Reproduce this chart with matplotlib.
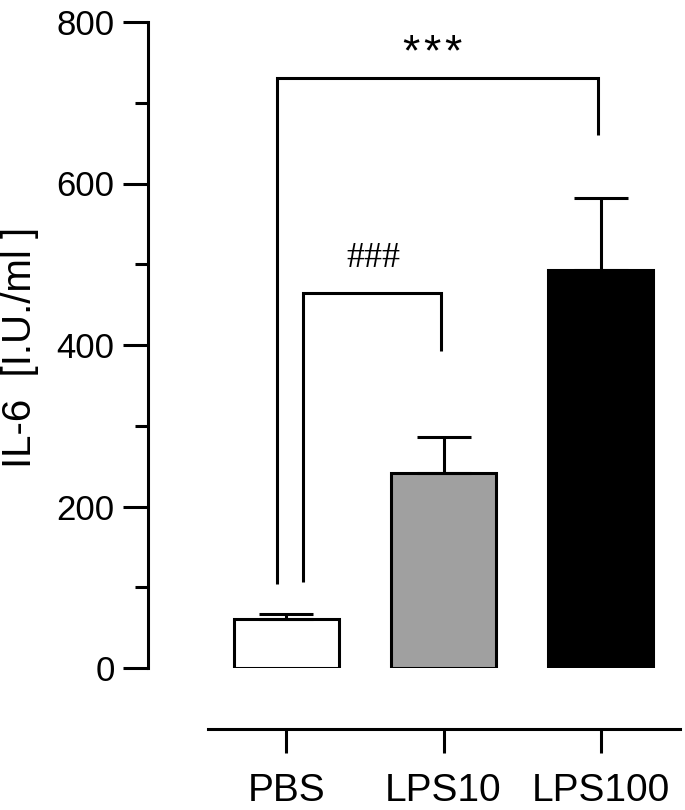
import matplotlib
matplotlib.use("Agg")
import matplotlib.pyplot as plt
from matplotlib.ticker import MultipleLocator

plt.rcParams['font.family'] = ['Liberation Sans', 'DejaVu Sans']

categories = ["PBS", "LPS10", "LPS100"]
means = [61, 242, 493]
sems = [6, 44, 89]
bar_colors = ["white", "#a0a0a0", "black"]

# significance brackets: (x-left, x-right, y-left-bottom, y-top, y-right-bottom, label)
sig_all = (-0.06, 1.984, 104, 731, 660, "***")
sig_lps10 = (0.105, 0.984, 106, 464, 392, "###")

W, H = 685, 810
fig = plt.figure(figsize=(W / 100, H / 100), dpi=100)
ax = fig.add_axes([148 / W, (H - 668) / H, (680 - 148) / W, (668 - 22) / H])

lw = 2.2
x = list(range(len(categories)))
ax.bar(x, means, width=0.669, color=bar_colors, edgecolor="black", linewidth=lw,
       yerr=[[0] * len(sems), sems], capsize=19.4,
       error_kw=dict(elinewidth=lw, capthick=lw, ecolor="black"), zorder=2)

ax.set_xlim(-0.882, 2.506)
ax.set_ylim(0, 800)

for s in ["top", "right"]:
    ax.spines[s].set_visible(False)
ax.spines["left"].set_linewidth(lw)
ax.spines["bottom"].set_linewidth(lw)
ax.spines["bottom"].set_position(("outward", 44))
ax.spines["bottom"].set_bounds(-0.5, 2.506)

ax.yaxis.set_major_locator(MultipleLocator(200))
ax.yaxis.set_minor_locator(MultipleLocator(100))
ax.tick_params(axis="y", which="major", length=18, width=lw, labelsize=25, pad=6)
ax.tick_params(axis="y", which="minor", length=9.4, width=lw)
ax.set_xticks(x)
ax.set_xticklabels(categories)
ax.tick_params(axis="x", which="major", length=17.3, width=lw, labelsize=28, pad=14)

for (xl, xr, yl, yt, yr, lab) in [sig_all, sig_lps10]:
    ax.plot([xl, xl, xr, xr], [yl, yt, yt, yr], color="black", lw=lw,
            solid_capstyle="butt", solid_joinstyle="miter", zorder=3)

# *** drawn as three slightly spaced asterisks
star_x0, star_dx = 0.927, 0.135
for i, ch in enumerate(sig_all[5]):
    ax.text(star_x0 + (i - 1) * star_dx, 746, ch, ha="center", va="baseline",
            fontsize=32)
ax.text(0.551, 497, sig_lps10[5], ha="center", va="baseline", fontsize=26,
        family=["Liberation Serif", "DejaVu Serif"])

fig.text(20 / W, 1 - 347 / H, "IL-6  [I.U./ml ]", rotation=90, ha="center",
         va="center", fontsize=29)

fig.savefig("out.png", dpi=100)
